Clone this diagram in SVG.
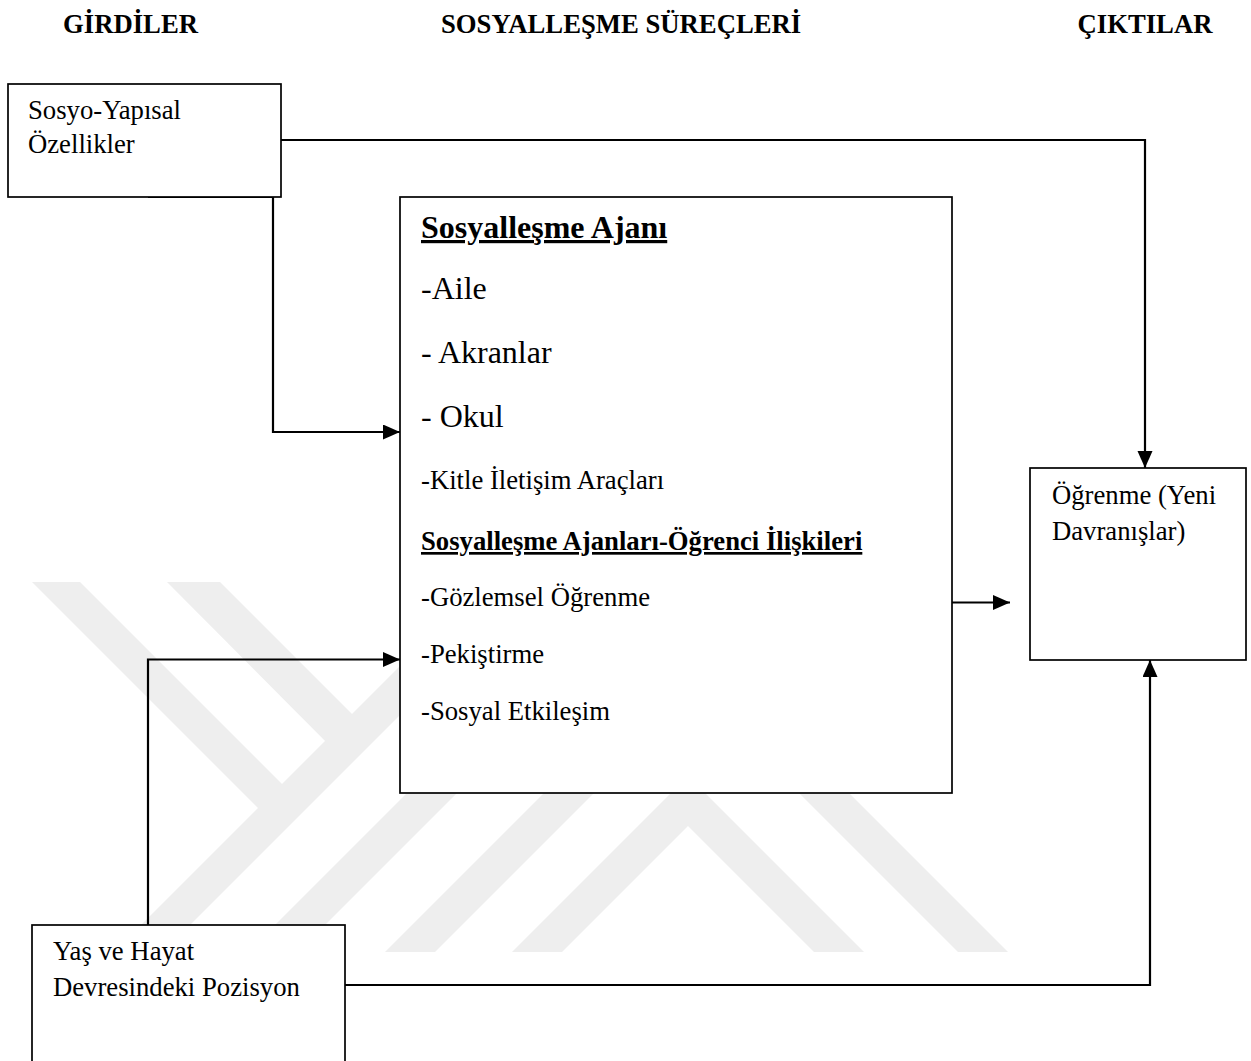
<svg xmlns="http://www.w3.org/2000/svg" width="1251" height="1061" viewBox="0 0 1251 1061">
<defs>
<style>
.t{font-family:"Liberation Serif","Times New Roman",serif;fill:#000}
.b{font-weight:bold}
.s{font-size:26.7px}
.l{font-size:32px}
.box{fill:#fff;stroke:#000;stroke-width:1.7}
.c{fill:none;stroke:#000;stroke-width:2.2}
.wm{fill:#eeeeee}
</style>
<marker id="ah" markerUnits="userSpaceOnUse" markerWidth="18" markerHeight="16" refX="17" refY="7.5" orient="auto">
<path d="M0,0 L17,7.5 L0,15 z" fill="#000"/>
</marker>
</defs>
<rect width="1251" height="1061" fill="#fff"/>
<g id="watermark">
<polygon class="wm" points="32,582 80,582 294,796 270,820"/>
<polygon class="wm" points="167,582 220,582 364,726 337,753"/>
<polygon class="wm" points="114,952 163,952 615,500 566,500"/>
<polygon class="wm" points="248,952 298,952 750,500 700,500"/>
<polygon class="wm" points="385,952 435,952 887,500 837,500"/>
<polygon class="wm" points="512,952 688,776 864,952 814,952 688,826 562,952"/>
<polygon class="wm" points="958,952 1008,952 756,700 706,700"/>
</g>
<g id="headers">
<text class="t b s" x="63" y="33">GİRDİLER</text>
<text class="t b s" x="441" y="33">SOSYALLEŞME SÜREÇLERİ</text>
<text class="t b s" x="1145" y="33" text-anchor="middle">ÇIKTILAR</text>
</g>
<g id="connectors">
<path class="c" d="M281,140 H1145 V468" marker-end="url(#ah)"/>
<path class="c" d="M345,985 H1150 V660" marker-end="url(#ah)"/>
<path class="c" d="M952,602.5 H1010" marker-end="url(#ah)"/>
<path class="c" d="M148,197 H273 V432 H400" marker-end="url(#ah)"/>
<path class="c" d="M148,925 V659.5 H400" marker-end="url(#ah)"/>
</g>
<g id="node-sosyo">
<rect class="box" x="8" y="84" width="273" height="113"/>
<text class="t s" x="28" y="119">Sosyo-Yapısal</text>
<text class="t s" x="28" y="153">Özellikler</text>
</g>
<g id="node-ajan">
<rect class="box" x="400" y="197" width="552" height="596" stroke-width="1.4"/>
<text class="t b l" x="421" y="238" text-decoration="underline">Sosyalleşme Ajanı</text>
<text class="t l" x="421" y="299">-Aile</text>
<text class="t l" x="421" y="363">- Akranlar</text>
<text class="t l" x="421" y="427">- Okul</text>
<text class="t s" x="421" y="489">-Kitle İletişim Araçları</text>
<text class="t b s" x="421" y="550" text-decoration="underline">Sosyalleşme Ajanları-Öğrenci İlişkileri</text>
<text class="t s" x="421" y="606">-Gözlemsel Öğrenme</text>
<text class="t s" x="421" y="663">-Pekiştirme</text>
<text class="t s" x="421" y="720">-Sosyal Etkileşim</text>
</g>
<g id="node-ogrenme">
<rect class="box" x="1030" y="468" width="216" height="192"/>
<text class="t s" x="1052" y="504">Öğrenme (Yeni</text>
<text class="t s" x="1052" y="540">Davranışlar)</text>
</g>
<g id="node-yas">
<rect class="box" x="32" y="925" width="313" height="150"/>
<text class="t s" x="53" y="960">Yaş ve Hayat</text>
<text class="t s" x="53" y="996">Devresindeki Pozisyon</text>
</g>
</svg>
